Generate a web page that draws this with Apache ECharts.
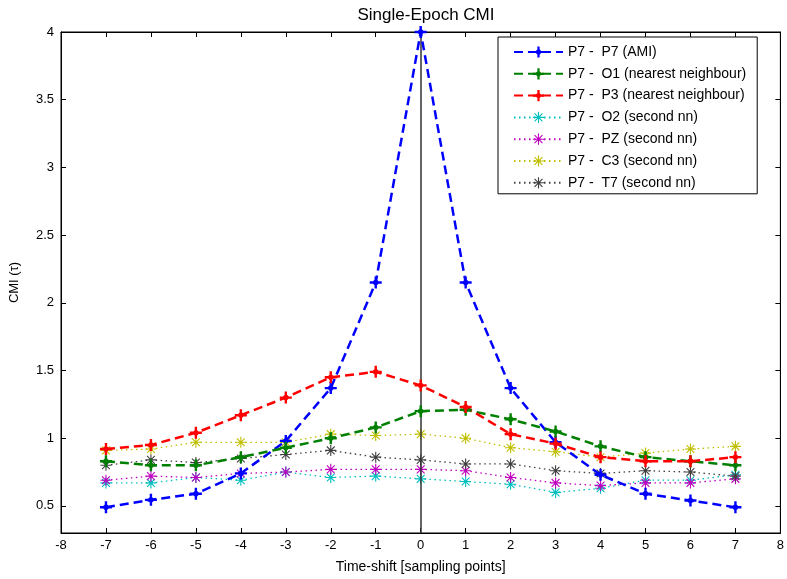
<!DOCTYPE html>
<html>
<head>
<meta charset="utf-8">
<script src="https://cdn.jsdelivr.net/npm/echarts@6/dist/echarts.min.js"></script>
<style>html,body{margin:0;padding:0;background:#fff}#c{width:787px;height:579px}</style>
</head>
<body>
<div id="c"></div>
<script>
const xs = [-7,-6,-5,-4,-3,-2,-1,0,1,2,3,4,5,6,7];
const yTicks = [0.5,1,1.5,2,2.5,3,3.5,4];
const xTicks = [-8,-7,-6,-5,-4,-3,-2,-1,0,1,2,3,4,5,6,7,8];
const names = ['P7 -  P7 (AMI)','P7 -  O1 (nearest neighbour)','P7 -  P3 (nearest neighbour)','P7 -  O2 (second nn)','P7 -  PZ (second nn)','P7 -  C3 (second nn)','P7 -  T7 (second nn)'];
const ami = [0.49,0.545,0.59,0.74,0.98,1.37,2.15,4.0,2.15,1.37,0.97,0.73,0.59,0.54,0.49];
const o1  = [0.83,0.80,0.80,0.86,0.93,1.00,1.08,1.20,1.21,1.14,1.05,0.94,0.86,0.83,0.80];
const p3  = [0.92,0.95,1.04,1.17,1.30,1.45,1.49,1.39,1.23,1.03,0.96,0.86,0.83,0.83,0.86];
const o2  = [0.67,0.67,0.71,0.69,0.75,0.71,0.72,0.70,0.68,0.66,0.60,0.63,0.69,0.69,0.73];
const pz  = [0.69,0.72,0.71,0.74,0.75,0.77,0.77,0.77,0.76,0.71,0.67,0.65,0.67,0.67,0.70];
const c3  = [0.91,0.92,0.97,0.97,0.97,1.03,1.02,1.03,1.00,0.93,0.90,0.86,0.89,0.92,0.94];
const t7  = [0.80,0.84,0.82,0.85,0.88,0.91,0.86,0.84,0.81,0.81,0.76,0.74,0.76,0.75,0.72];
const seriesData = [ami,o1,p3,o2,pz,c3,t7];
const colors = ['#0000ff','#008000','#ff0000','#00bfbf','#bf00bf','#bfbf00','#404040'];

const starPath = 'path://M9 0L11 0L11 20L9 20Z M0 9L20 9L20 11L0 11Z M2.2 3.6L3.6 2.2L17.8 16.4L16.4 17.8Z M16.4 2.2L17.8 3.6L3.6 17.8L2.2 16.4Z';
const plusPath = 'path://M8 0L12 0L12 20L8 20Z M0 8L20 8L20 12L0 12Z M10 3.5L16.5 10L10 16.5L3.5 10Z';

const font = 'Liberation Sans, Arial, sans-serif';
const series = seriesData.map((d, i) => {
  const thick = i < 3;
  const s = {
    name: names[i],
    type: 'line',
    xAxisIndex: 0, yAxisIndex: 0,
    data: xs.map((x, k) => [x, d[k]]),
    symbol: thick ? plusPath : starPath,
    symbolSize: thick ? 12 : 11,
    itemStyle: { color: colors[i] },
    lineStyle: thick ? { color: colors[i], width: 2.5, type: [9, 5] } : { color: colors[i], width: 1.3, type: [1.5, 3.5] },
    z: thick ? 5 : 3,
    animation: false
  };
  if (i === 0) {
    s.markLine = {
      silent: true, symbol: 'none', label: { show: false },
      lineStyle: { color: '#333', width: 1.5, type: 'solid' },
      data: [{ xAxis: 0 }], animation: false
    };
  }
  return s;
});

const axisBase = {
  axisLine: { show: true, onZero: false, lineStyle: { color: '#000' } },
  splitLine: { show: false }
};

const chart = echarts.init(document.getElementById('c'));
chart.setOption({
  backgroundColor: '#fff',
  animation: false,
  title: {
    text: 'Single-Epoch CMI', left: 421, top: 2, textAlign: 'center',
    textStyle: { fontFamily: font, fontSize: 17, fontWeight: 'normal', color: '#000' }
  },
  legend: {
    orient: 'vertical', left: 498, top: 37,
    padding: [8, 11, 4, 15],
    itemWidth: 49, itemHeight: 14, itemGap: 7.8,
    backgroundColor: '#fff', borderColor: '#000', borderWidth: 1,
    textStyle: { fontFamily: font, fontSize: 14, color: '#000' },
    data: names
  },
  grid: { left: 61, right: 5, top: 32, bottom: 46, show: true, borderColor: '#000', borderWidth: 1, containLabel: false },
  xAxis: [Object.assign({}, axisBase, {
    type: 'value', min: -8, max: 8, interval: 1, position: 'bottom',
    name: 'Time-shift [sampling points]', nameLocation: 'middle', nameGap: 27,
    nameTextStyle: { fontFamily: font, fontSize: 14, color: '#000' },
    axisTick: { show: true, inside: true, length: 5, lineStyle: { color: '#000' } },
    axisLabel: { margin: 6, fontFamily: font, fontSize: 13, color: '#000', customValues: xTicks }
  }), Object.assign({}, axisBase, {
    type: 'value', min: -8, max: 8, interval: 1, position: 'top',
    axisTick: { show: true, inside: true, length: 5, lineStyle: { color: '#000' } },
    axisLabel: { show: false }
  })],
  yAxis: [Object.assign({}, axisBase, {
    type: 'value', min: 0.3, max: 4, position: 'left',
    name: 'CMI (τ)', nameLocation: 'middle', nameGap: 40, nameRotate: 90,
    nameTextStyle: { fontFamily: font, fontSize: 13, color: '#000' },
    axisTick: { show: true, inside: true, length: 5, lineStyle: { color: '#000' }, customValues: yTicks },
    axisLabel: { margin: 7, fontFamily: font, fontSize: 13, color: '#000', customValues: yTicks }
  }), Object.assign({}, axisBase, {
    type: 'value', min: 0.3, max: 4, position: 'right',
    axisTick: { show: true, inside: true, length: 5, lineStyle: { color: '#000' }, customValues: yTicks },
    axisLabel: { show: false }
  })],
  series: series
});
</script>
</body>
</html>
